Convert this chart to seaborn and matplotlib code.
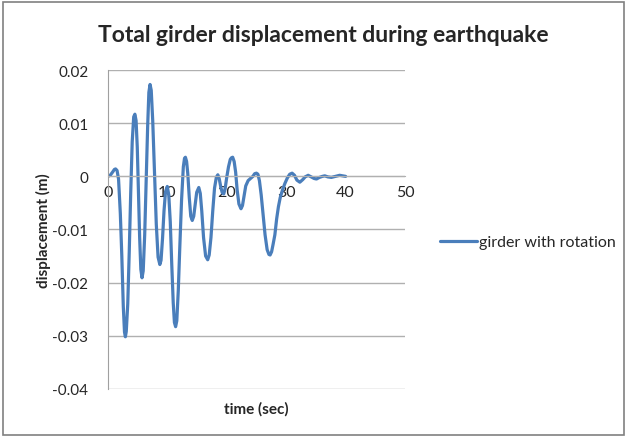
import numpy as np
import pandas as pd
import seaborn as sns
import matplotlib.pyplot as plt
from matplotlib.patches import Rectangle

# time (sec) and displacement (m)
time_sec = [0.0, 0.4, 0.8, 1.1, 1.3, 1.55, 1.8, 2.1, 2.35, 2.6, 2.8, 2.95,
            3.1, 3.35, 3.6, 3.85, 4.1, 4.35, 4.55, 4.75, 4.95, 5.15, 5.35, 5.55, 5.75,
            5.95, 6.2, 6.45, 6.7, 6.9, 7.1, 7.3, 7.55, 7.85, 8.15, 8.45, 8.75,
            8.95, 9.2, 9.45, 9.7, 10.0, 10.25, 10.5, 10.75, 11.0, 11.2, 11.4,
            11.6, 11.85, 12.1, 12.4, 12.7, 12.9, 13.05, 13.25, 13.45, 13.7, 13.95, 14.2,
            14.45, 14.7, 14.95, 15.3, 15.55, 15.8, 16.1, 16.45, 16.8,
            17.05, 17.35, 17.65, 17.95, 18.25, 18.5, 18.75, 19.0, 19.25, 19.5,
            19.75, 20.0, 20.3, 20.6, 20.8, 21.0, 21.25, 21.5, 21.75, 22.05, 22.4,
            22.65, 22.9, 23.2, 23.6, 24.0, 24.4, 24.7, 25.0,
            25.25, 25.5, 25.8, 26.1, 26.45, 26.8, 27.1, 27.3,
            27.55, 27.8, 28.1, 28.4, 28.7, 29.0, 29.4, 29.8, 30.2, 30.6, 31.0,
            31.4, 31.8, 32.3, 32.8, 33.2, 33.7, 34.2, 34.7, 35.1, 35.6, 36.1, 36.5,
            37.0, 37.6, 38.3, 39.0, 39.5, 40.0]
disp_m = [0.0, 0.0002, 0.0008, 0.0013, 0.0014, 0.0011, -0.0005, -0.007, -0.015, -0.0245, -0.0293, -0.0302,
          -0.0292, -0.024, -0.0142, -0.003, 0.0065, 0.0112, 0.0117, 0.0105, 0.0055, -0.003, -0.0115, -0.0175, -0.0191,
          -0.0178, -0.011, -0.0005, 0.0095, 0.0158, 0.0173, 0.0162, 0.0105, 0.0005, -0.009, -0.0152, -0.0166,
          -0.0158, -0.0117, -0.0065, -0.0029, -0.0019, -0.0035, -0.0085, -0.0165, -0.0238, -0.0275, -0.0283,
          -0.0272, -0.0215, -0.0135, -0.0045, 0.0018, 0.0034, 0.0036, 0.0028, 0.0005, -0.004, -0.0075, -0.0083,
          -0.0075, -0.0052, -0.003, -0.0021, -0.0032, -0.0065, -0.0115, -0.015, -0.0157,
          -0.0148, -0.0115, -0.0065, -0.0022, -0.0002, 0.0003, -0.0005, -0.002, -0.0031, -0.0033,
          -0.0022, -0.0002, 0.0018, 0.0032, 0.0035, 0.0036, 0.0028, 0.0008, -0.0025, -0.0052, -0.0061,
          -0.0055, -0.0038, -0.0018, -0.0008, -0.0004, 0.0, 0.0005, 0.0006,
          0.0004, -0.0008, -0.0035, -0.007, -0.011, -0.0138, -0.0147, -0.0148,
          -0.0142, -0.0128, -0.011, -0.008, -0.0057, -0.004, -0.0025, -0.0013, -0.0003, 0.0004, 0.0006,
          0.0002, -0.0007, -0.0011, -0.0006, -0.0001, 0.0002, -0.0001, -0.0004, -0.0005, -0.0002, 0.0, 0.0001,
          -0.0001, -0.0002, 0.0, 0.0002, 0.0001, 0.0]

df = pd.DataFrame({"time": time_sec, "disp": disp_m})

sns.set_style("white")
plt.rcParams['font.family'] = ['Lato', 'DejaVu Sans']

fig = plt.figure(figsize=(6.27, 4.39), dpi=100)
ax = fig.add_axes([0.172, 0.112, 0.474, 0.726])

sns.lineplot(data=df, x="time", y="disp", ax=ax, color="#4A7EBB", linewidth=2.3,
             label="girder with rotation", solid_joinstyle="round", solid_capstyle="round")

ax.set_xlim(0, 50)
ax.set_ylim(-0.04, 0.02)
ax.set_xticks(np.arange(0, 51, 10))
ax.set_yticks(np.arange(-0.04, 0.021, 0.01))
ax.set_yticklabels(["-0.04", "-0.03", "-0.02", "-0.01", "0", "0.01", "0.02"])
ax.yaxis.grid(True, color="#B0B0B0", linewidth=1)
ax.xaxis.grid(False)
ax.set_axisbelow(True)

ax.spines['bottom'].set_position(('data', 0))
ax.spines['bottom'].set_color("#B0B0B0")
ax.spines['left'].set_color("#A0A0A0")
ax.spines['top'].set_visible(False)
ax.spines['right'].set_visible(False)
ax.tick_params(axis='x', length=0, pad=6, labelsize=11.5)
ax.tick_params(axis='y', length=0, pad=14, labelsize=11)

ax.set_xlabel("time (sec)", fontsize=11, fontweight="bold")
ax.xaxis.set_label_coords(0.5, -0.04)
ax.set_ylabel("displacement (m)", fontsize=11, fontweight="bold")
ax.yaxis.set_label_coords(-0.19, 0.5)

fig.text(0.515, 0.918, "Total girder displacement during earthquake",
         ha="center", va="center", fontsize=16.5, fontweight="bold")

ax.legend(loc="center left", bbox_to_anchor=(1.07, 0.46), frameon=False,
          fontsize=11.5, handlelength=2.3, handletextpad=0.15)

fig.patches.append(Rectangle((0.005, 0.007), 0.99, 0.986, transform=fig.transFigure,
                             fill=False, edgecolor="#808080", linewidth=1.2))

fig.savefig("out.png", dpi=100)
